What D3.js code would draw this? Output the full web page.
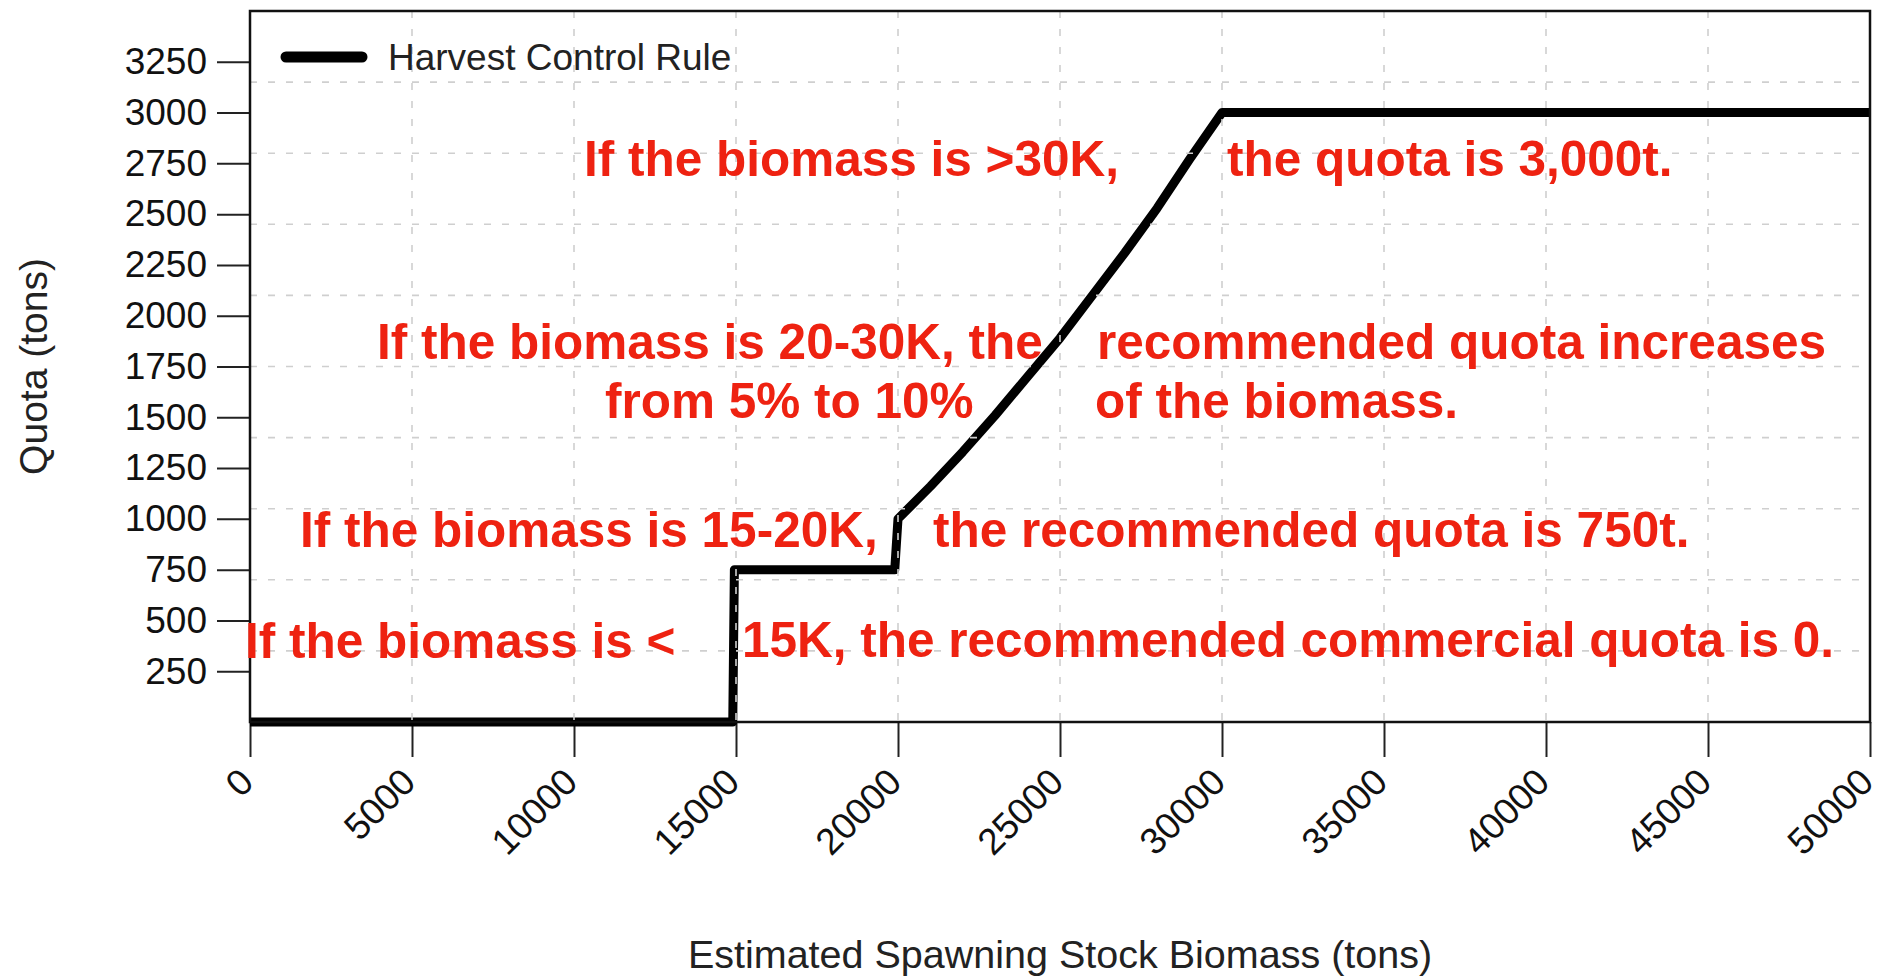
<!DOCTYPE html>
<html>
<head>
<meta charset="utf-8">
<script src="https://cdn.jsdelivr.net/npm/d3@7"></script>
<style>
  html, body { margin: 0; padding: 0; background: #fff; }
  svg { display: block; }
  text { font-family: "Liberation Sans", Arial, Helvetica, sans-serif; }
</style>
</head>
<body>
<svg id="chart" width="1889" height="977"></svg>
<script>
// ---- data ----
const biomass = [0, 14900, 14950, 19900, 20000, 21000, 22000, 23000, 24000, 25000, 26000, 27000, 28000, 29000, 30000, 50000];
const quota   = [0, 0,     750,   750,   1000,  1160,  1330,  1510,  1700,  1890,  2100,  2310,  2530,  2770,  3000,  3000];
const xTicks = [0, 5000, 10000, 15000, 20000, 25000, 30000, 35000, 40000, 45000, 50000];
const yTicks = [250, 500, 750, 1000, 1250, 1500, 1750, 2000, 2250, 2500, 2750, 3000, 3250];
const xGrid = [5000, 10000, 15000, 20000, 25000, 30000, 35000, 40000, 45000];
const yGrid = [350, 700, 1050, 1400, 1750, 2100, 2450, 2800, 3150];
const seriesName = "Harvest Control Rule";
const xTitle = "Estimated Spawning Stock Biomass (tons)";
const yTitle = "Quota (tons)";
const notes = [
  {text: "If the biomass is >30K,", bx: 10309, q: 2690},
  {text: "the quota is 3,000t.", bx: 30154, q: 2690},
  {text: "If the biomass is 20-30K, the", bx: 3920, q: 1787},
  {text: "recommended quota increases", bx: 26142, q: 1787},
  {text: "from 5% to 10%", bx: 10957, q: 1497},
  {text: "of the biomass.", bx: 26080, q: 1497},
  {text: "If the biomass is 15-20K,", bx: 1543, q: 862},
  {text: "the recommended quota is 750t.", bx: 21080, q: 862},
  {text: "If the biomass is <", bx: -154, q: 315},
  {text: "15K, the recommended commercial quota is 0.", bx: 15185, q: 320}
];

// ---- layout ----
const L = 250, R = 1870, T = 11, B = 722;
const svg = d3.select("#chart");
const x = d3.scaleLinear().domain([0, 50000]).range([L, R]);
const y = d3.scaleLinear().domain([0, 3500]).range([B, T]);

// axes
const yAxis = d3.axisLeft(y).tickValues(yTicks).tickSize(33).tickPadding(10).tickFormat(d3.format("d"));
const gy = svg.append("g").attr("transform", `translate(${L},0)`).call(yAxis);
gy.select(".domain").remove();
gy.selectAll(".tick line").attr("stroke", "#222").attr("stroke-width", 2);
gy.selectAll(".tick text").attr("font-size", 37).attr("fill", "#111")
  .attr("font-family", "Liberation Sans, Arial, sans-serif");

const xAxis = d3.axisBottom(x).tickValues(xTicks).tickSize(35).tickFormat(d3.format("d"));
const gx = svg.append("g").attr("transform", `translate(0,${B})`).call(xAxis);
gx.select(".domain").remove();
gx.selectAll(".tick line").attr("stroke", "#222").attr("stroke-width", 2);
gx.selectAll(".tick text")
  .attr("font-size", 37).attr("fill", "#111")
  .attr("font-family", "Liberation Sans, Arial, sans-serif")
  .attr("text-anchor", "end")
  .attr("dy", "0.35em")
  .attr("y", 0)
  .attr("transform", "translate(-4,53) rotate(-45)");

// data line
const line = d3.line().x((d, i) => x(biomass[i])).y((d, i) => y(quota[i]));
svg.append("path")
  .attr("d", line(biomass))
  .attr("fill", "none").attr("stroke", "#000")
  .attr("stroke-width", 9).attr("stroke-linejoin", "round").attr("stroke-linecap", "butt");

// grid (drawn on top, like the original)
const grid = svg.append("g").attr("stroke", "#cfcfcf").attr("stroke-width", 1.6).attr("stroke-dasharray", "7,11");
grid.selectAll("line.v").data(xGrid).join("line")
  .attr("x1", d => x(d)).attr("x2", d => x(d)).attr("y1", T).attr("y2", B);
grid.selectAll("line.h").data(yGrid).join("line")
  .attr("x1", L).attr("x2", R).attr("y1", d => y(d)).attr("y2", d => y(d));

// box
svg.append("rect").attr("x", L).attr("y", T).attr("width", R - L).attr("height", B - T)
  .attr("fill", "none").attr("stroke", "#111").attr("stroke-width", 2.5);

// legend
svg.append("line").attr("x1", 286).attr("x2", 362).attr("y1", 57).attr("y2", 57)
  .attr("stroke", "#000").attr("stroke-width", 11).attr("stroke-linecap", "round");
svg.append("text").attr("x", 388).attr("y", 57).attr("dy", "0.35em")
  .attr("font-size", 37).attr("fill", "#222").text(seriesName);

// axis titles
svg.append("text").attr("x", (L + R) / 2).attr("y", 968).attr("text-anchor", "middle")
  .attr("font-size", 39.5).attr("fill", "#222").text(xTitle);
svg.append("text").attr("transform", `translate(47,${(T + B) / 2}) rotate(-90)`)
  .attr("text-anchor", "middle").attr("font-size", 39).attr("fill", "#222").text(yTitle);

// red annotations
svg.append("g").selectAll("text").data(notes).join("text")
  .attr("x", d => x(d.bx)).attr("y", d => y(d.q))
  .attr("font-size", 49.5).attr("font-weight", "bold").attr("fill", "#ee2211")
  .text(d => d.text);
</script>
</body>
</html>
